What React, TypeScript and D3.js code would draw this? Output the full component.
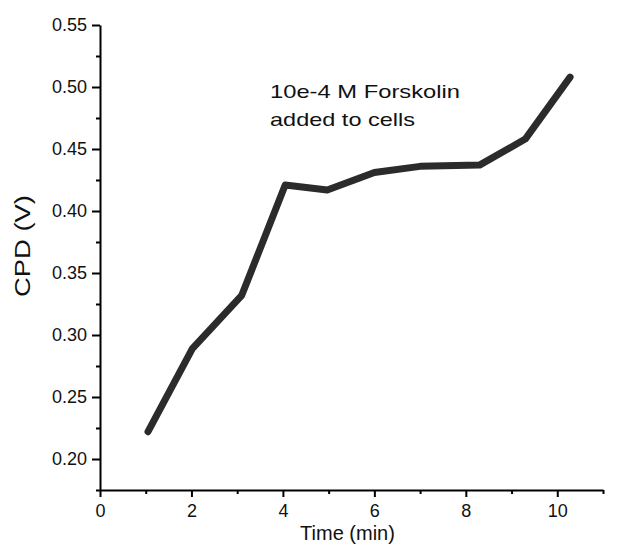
import React, { useRef, useEffect } from 'react'
import * as d3 from 'd3'

const times = [1.05, 2.02, 3.1, 4.05, 4.97, 6.0, 7.0, 8.3, 9.3, 10.28]
const cpd = [0.222, 0.289, 0.332, 0.421, 0.417, 0.431, 0.436, 0.437, 0.458, 0.508]

const xMajor = [0, 2, 4, 6, 8, 10]
const xMinor = [1, 3, 5, 7, 9, 11]
const yMajor = [0.2, 0.25, 0.3, 0.35, 0.4, 0.45, 0.5, 0.55]
const yMinor = [0.175, 0.225, 0.275, 0.325, 0.375, 0.425, 0.475, 0.525]

const noteLines = ['10e-4 M Forskolin', 'added to cells']

export default function App({
  width = 618,
  height = 555,
  marginTop = 25,
  marginRight = 15,
  marginBottom = 65,
  marginLeft = 100
}) {
  const gx = useRef<SVGGElement>(null)
  const gxm = useRef<SVGGElement>(null)
  const gy = useRef<SVGGElement>(null)
  const gym = useRef<SVGGElement>(null)

  const x = d3.scaleLinear().domain([0, 11]).range([marginLeft, width - marginRight])
  const y = d3.scaleLinear().domain([0.175, 0.55]).range([height - marginBottom, marginTop])

  const line = d3.line<number>()
    .x((d, i) => x(times[i]))
    .y(d => y(d))

  useEffect(() => {
    const font = '"Liberation Sans", Arial, sans-serif'
    d3.select(gx.current)
      .call(d3.axisBottom(x).tickValues(xMajor).tickSize(7).tickSizeOuter(0).tickPadding(7))
      .call(g => g.selectAll('text').attr('font-size', 18).attr('font-family', font).attr('fill', '#111'))
      .call(g => g.selectAll('line').attr('stroke-width', 2))
      .call(g => g.select('.domain').attr('stroke-width', 2))
    d3.select(gxm.current)
      .call(d3.axisBottom(x).tickValues(xMinor).tickSize(4).tickFormat(() => ''))
      .call(g => g.select('.domain').remove())
      .call(g => g.selectAll('line').attr('stroke-width', 2))
    d3.select(gy.current)
      .call(d3.axisLeft(y).tickValues(yMajor).tickSize(8).tickSizeOuter(0).tickPadding(5).tickFormat(d3.format('.2f')))
      .call(g => g.selectAll('text').attr('font-size', 18).attr('font-family', font).attr('fill', '#111'))
      .call(g => g.selectAll('line').attr('stroke-width', 2))
      .call(g => g.select('.domain').attr('stroke-width', 2))
    d3.select(gym.current)
      .call(d3.axisLeft(y).tickValues(yMinor).tickSize(4).tickFormat(() => ''))
      .call(g => g.select('.domain').remove())
      .call(g => g.selectAll('line').attr('stroke-width', 2))
  }, [])

  return (
    <svg width={width} height={height} style={{ position: 'absolute', left: 0, top: 0, background: 'white' }}
      fontFamily='"Liberation Sans", Arial, sans-serif'>
      <g ref={gxm} transform={`translate(0,${height - marginBottom})`} />
      <g ref={gx} transform={`translate(0,${height - marginBottom})`} />
      <g ref={gym} transform={`translate(${marginLeft},0)`} />
      <g ref={gy} transform={`translate(${marginLeft},0)`} />

      <path
        fill="none"
        stroke="#2b2b2b"
        strokeWidth="7"
        strokeLinejoin="round"
        strokeLinecap="round"
        d={line(cpd) ?? ''}
      />

      <text x={270} y={98} fontSize={19} fill="#111" textLength={190} lengthAdjust="spacingAndGlyphs">{noteLines[0]}</text>
      <text x={270} y={126} fontSize={19} fill="#111" textLength={145} lengthAdjust="spacingAndGlyphs">{noteLines[1]}</text>

      <text x={(x(0) + x(11)) / 2 - 4} y={540} fontSize={20} textAnchor="middle" fill="#111">Time (min)</text>
      <text transform={`translate(30,${246}) rotate(-90)`} fontSize={22} textAnchor="middle" fill="#111"
        textLength={102} lengthAdjust="spacingAndGlyphs">CPD (V)</text>
    </svg>
  )
}
